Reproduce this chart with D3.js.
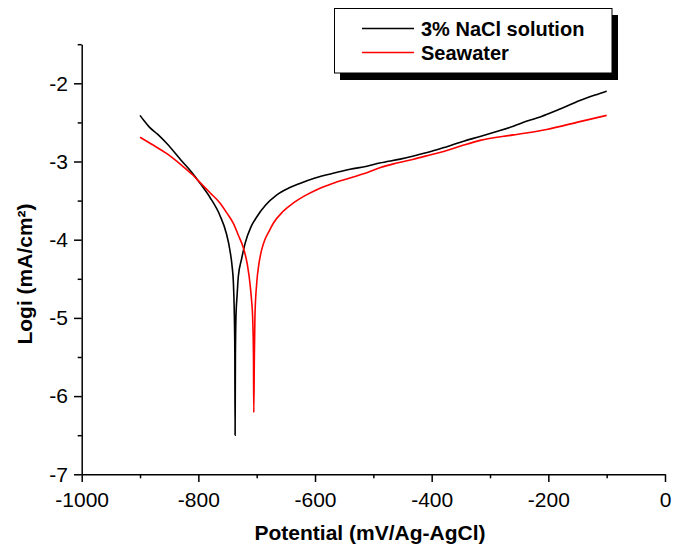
<!DOCTYPE html>
<html>
<head>
<meta charset="utf-8">
<script src="https://cdn.jsdelivr.net/npm/d3@7"></script>
<style>
  body { margin: 0; background: #fff; }
  svg { display: block; font-family: Arial, "Liberation Sans", sans-serif; }
  .axis path, .axis line { stroke: #000; stroke-width: 1.5; }
  .axis text { font-size: 21px; fill: #000; }
</style>
</head>
<body>
<svg id="chart" width="683" height="551"></svg>
<script>
// potential (mV vs Ag/AgCl) and log i
var naclPotential = [-900, -893, -884, -870, -854, -830, -810, -797, -780, -763, -752, -746, -742, -740, -738.5, -737.5, -737,
    -736.5, -735.5, -733.5, -731.5, -726, -720, -710, -700, -685, -666, -645, -626, -600, -569, -540, -511, -489,
    -454, -431, -400, -374, -345, -317, -290, -260, -235, -214, -180, -146, -120, -100];
var naclLogi = [-2.41, -2.48, -2.56, -2.65, -2.77, -2.98, -3.15, -3.28, -3.46, -3.69, -3.92, -4.13, -4.35, -4.54, -4.9, -5.4, -6.5,
    -5.5, -4.98, -4.7, -4.47, -4.25, -4.05, -3.84, -3.71, -3.56, -3.43, -3.34, -3.28, -3.21, -3.15, -3.10, -3.06, -3.02,
    -2.97, -2.93, -2.87, -2.81, -2.74, -2.68, -2.62, -2.55, -2.48, -2.43, -2.33, -2.22, -2.15, -2.10];

var seaPotential = [-900, -880, -854, -830, -810, -797, -780, -763, -751, -740, -731, -723, -716, -711.5, -708.5, -707, -705.5, -705,
    -704, -703, -700, -696, -691.5, -686, -680, -671.5, -655, -637, -618, -597, -570, -540, -510, -489, -460, -431, -400,
    -374, -345, -317, -260, -203, -146, -100];
var seaLogi = [-2.69, -2.78, -2.90, -3.04, -3.17, -3.27, -3.40, -3.53, -3.66, -3.79, -3.95, -4.10, -4.32, -4.56, -4.8, -4.98, -5.5, -6.21,
    -5.5, -4.98, -4.56, -4.30, -4.13, -4.00, -3.91, -3.79, -3.64, -3.53, -3.44, -3.36, -3.28, -3.21, -3.14, -3.08, -3.02, -2.97, -2.91,
    -2.86, -2.79, -2.73, -2.66, -2.59, -2.49, -2.41];

var seriesNames = ['3% NaCl solution', 'Seawater'];
var seriesColors = ['#000000', '#ff0000'];

var xMajor = [-1000, -800, -600, -400, -200, 0];
var xMinor = d3.range(-900, 0, 200);
var yMajor = [-7, -6, -5, -4, -3, -2];
var yMinor = [-6.5, -5.5, -4.5, -3.5, -2.5, -1.5];

var svg = d3.select('#chart');

var x = d3.scaleLinear().domain([-1000, 0]).range([81.7, 665]);
var y = d3.scaleLinear().domain([-7, -1.5]).range([474.3, 44.2]);

// minor ticks first, major axis on top
svg.append('g')
    .attr('class', 'axis')
    .attr('transform', 'translate(0,474.3)')
    .call(d3.axisBottom(x).tickValues(xMinor).tickSize(4).tickSizeOuter(0).tickFormat(''))
    .select('.domain').remove();

svg.append('g')
    .attr('class', 'axis')
    .attr('transform', 'translate(0,474.3)')
    .call(d3.axisBottom(x).tickValues(xMajor).tickSize(7.7).tickSizeOuter(0).tickPadding(10).tickFormat(d3.format('d')));

svg.append('g')
    .attr('class', 'axis')
    .attr('transform', 'translate(81.7,0)')
    .call(d3.axisLeft(y).tickValues(yMinor).tickSize(4).tickSizeOuter(0).tickFormat(''))
    .select('.domain').remove();

svg.append('g')
    .attr('class', 'axis')
    .attr('transform', 'translate(81.7,0)')
    .call(d3.axisLeft(y).tickValues(yMajor).tickSize(7.7).tickSizeOuter(0).tickPadding(6).tickFormat(d3.format('d')));

svg.selectAll('.axis text').text(function () { return this.textContent.replace('\u2212', '-'); });

// curves
var line = d3.line()
    .x(d => x(d[0]))
    .y(d => y(d[1]))
    .curve(d3.curveMonotoneX);

var series = [
    d3.zip(naclPotential, naclLogi),
    d3.zip(seaPotential, seaLogi)
];

svg.selectAll('path.curve')
    .data(series)
    .enter()
    .append('path')
    .attr('class', 'curve')
    .attr('fill', 'none')
    .attr('stroke', (d, i) => seriesColors[i])
    .attr('stroke-width', 1.6)
    .attr('d', line);

// axis titles
svg.append('text')
    .attr('x', 370)
    .attr('y', 540)
    .attr('text-anchor', 'middle')
    .attr('font-size', 21)
    .attr('font-weight', 'bold')
    .text('Potential (mV/Ag-AgCl)');

svg.append('text')
    .attr('transform', 'translate(32,274) rotate(-90)')
    .attr('text-anchor', 'middle')
    .attr('font-size', 21)
    .attr('font-weight', 'bold')
    .text('Logi (mA/cm\u00b2)');

// legend with drop shadow
var legend = svg.append('g');
legend.append('rect')
    .attr('x', 340).attr('y', 15).attr('width', 278).attr('height', 65)
    .attr('fill', '#000');
legend.append('rect')
    .attr('x', 334.5).attr('y', 8.5).attr('width', 277.5).attr('height', 64.5)
    .attr('fill', '#fff').attr('stroke', '#000').attr('stroke-width', 1);

var legendRows = legend.selectAll('g.row')
    .data(seriesNames)
    .enter()
    .append('g')
    .attr('class', 'row')
    .attr('transform', (d, i) => `translate(0, ${i === 0 ? 28.5 : 52.5})`);

legendRows.append('line')
    .attr('x1', 362).attr('x2', 414)
    .attr('stroke', (d, i) => seriesColors[i])
    .attr('stroke-width', 1.6);

legendRows.append('text')
    .attr('x', 421)
    .attr('y', 7)
    .attr('font-size', 20)
    .attr('font-weight', 'bold')
    .text(d => d);
</script>
</body>
</html>
